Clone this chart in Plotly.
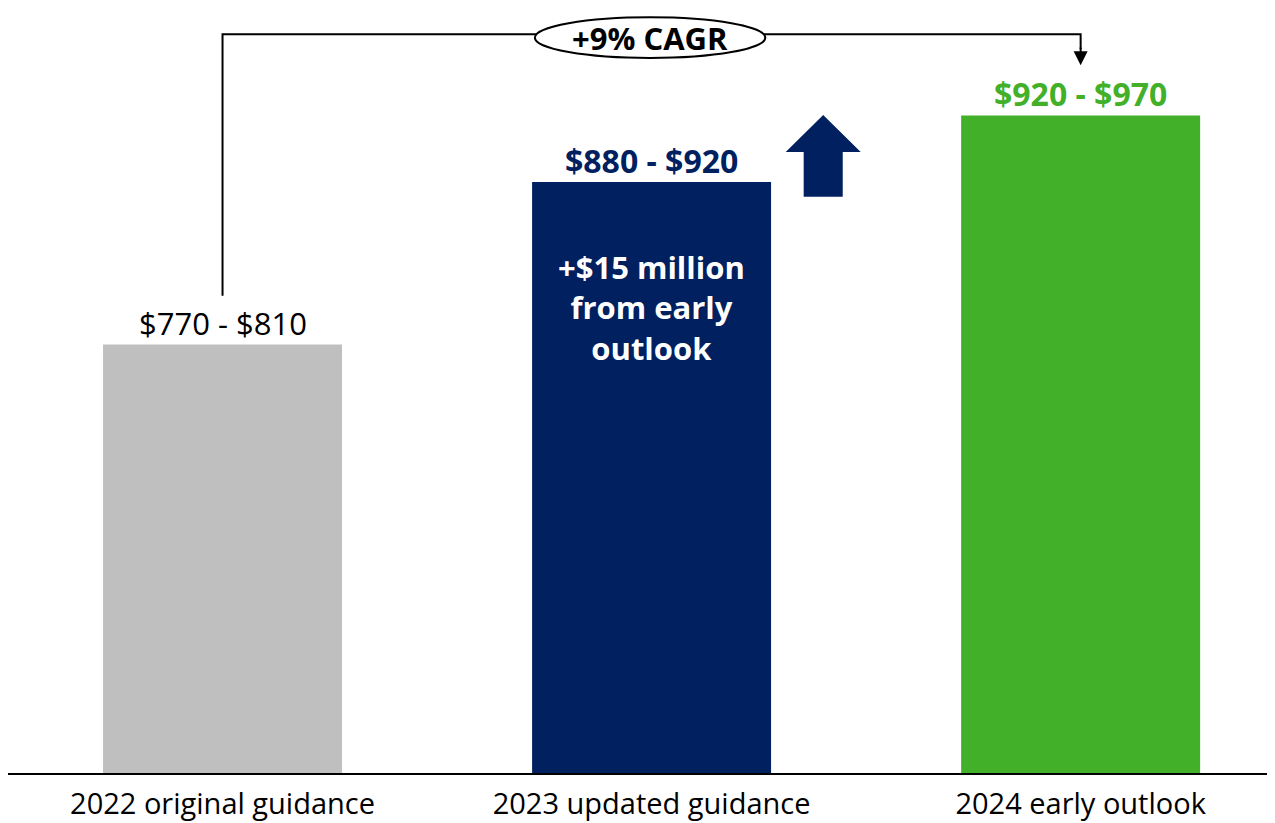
import plotly.graph_objects as go

categories = ["2022 original guidance", "2023 updated guidance", "2024 early outlook"]
midpoints = [790, 900, 945]
range_labels = ["$770 - $810", "<b>$880 - $920</b>", "<b>$920 - $970</b>"]
label_sizes = [31, 32, 32]
bar_colors = ["#BFBFBF", "#002060", "#43B02A"]
label_colors = ["#000000", "#002060", "#43B02A"]
inner_note = "<b>+$15 million<br>from early<br>outlook</b>"
cagr_text = "<b>+9% CAGR</b>"

FONT = "Open Sans"
FLOOR = 500

fig = go.Figure(
    go.Bar(
        x=list(range(len(categories))),
        y=[v - FLOOR for v in midpoints],
        base=FLOOR,
        marker=dict(color=bar_colors, line=dict(width=0)),
        width=0.557,
        hoverinfo="skip",
    )
)

fig.update_layout(
    width=1267,
    height=815,
    plot_bgcolor="white",
    paper_bgcolor="white",
    margin=dict(l=0, r=0, t=0, b=50),
    showlegend=False,
    font=dict(family=FONT, color="black"),
    xaxis=dict(
        range=[-0.5, 2.453],
        tickmode="array",
        tickvals=list(range(len(categories))),
        ticktext=categories,
        tickfont=dict(size=29, family=FONT, color="black"),
        ticklabelstandoff=4,
        showline=True,
        linecolor="black",
        linewidth=2,
        showgrid=False,
        zeroline=False,
        ticks="",
    ),
    yaxis=dict(
        range=[FLOOR, 1017.8],
        visible=False,
        showgrid=False,
        zeroline=False,
    ),
)

# value range labels above bars
for i, (txt, col, sz) in enumerate(zip(range_labels, label_colors, label_sizes)):
    fig.add_annotation(
        x=i, y=midpoints[i], text=txt, showarrow=False,
        yanchor="middle", yshift=22,
        font=dict(size=sz, color=col, family=FONT),
    )

# note inside the 2023 bar
fig.add_annotation(
    x=1, y=midpoints[1], text=inner_note, showarrow=False,
    yanchor="middle", yshift=-125,
    font=dict(size=31, color="white", family=FONT),
)

# bracket from 2022 to 2024
fig.add_shape(
    type="path",
    path="M 0,823 L 0,1000 L 2,1000 L 2,990",
    xref="x", yref="y",
    line=dict(color="black", width=2),
)
fig.add_annotation(
    x=2, y=979, ax=2, ay=992, xref="x", yref="y", axref="x", ayref="y",
    showarrow=True, arrowhead=2, arrowsize=1.4, arrowwidth=2, arrowcolor="black",
    text="",
)
fig.add_shape(
    type="circle", xref="x", yref="y",
    x0=0.728, x1=1.265, y0=984, y1=1011.5,
    line=dict(color="black", width=2), fillcolor="white",
)
fig.add_annotation(
    x=0.9965, y=997.5, text=cagr_text, showarrow=False,
    font=dict(size=31, color="black", family=FONT),
)

# block up arrow next to 2023 bar
cx, hw, sw = 1.4, 0.0874, 0.0455
fig.add_shape(
    type="path", xref="x", yref="y",
    path=(
        f"M {cx - sw},890 L {cx - sw},920.3 L {cx - hw},920.3 L {cx},945.4 "
        f"L {cx + hw},920.3 L {cx + sw},920.3 L {cx + sw},890 Z"
    ),
    fillcolor="#002060", line=dict(width=0),
)

fig.write_html("out.html")
